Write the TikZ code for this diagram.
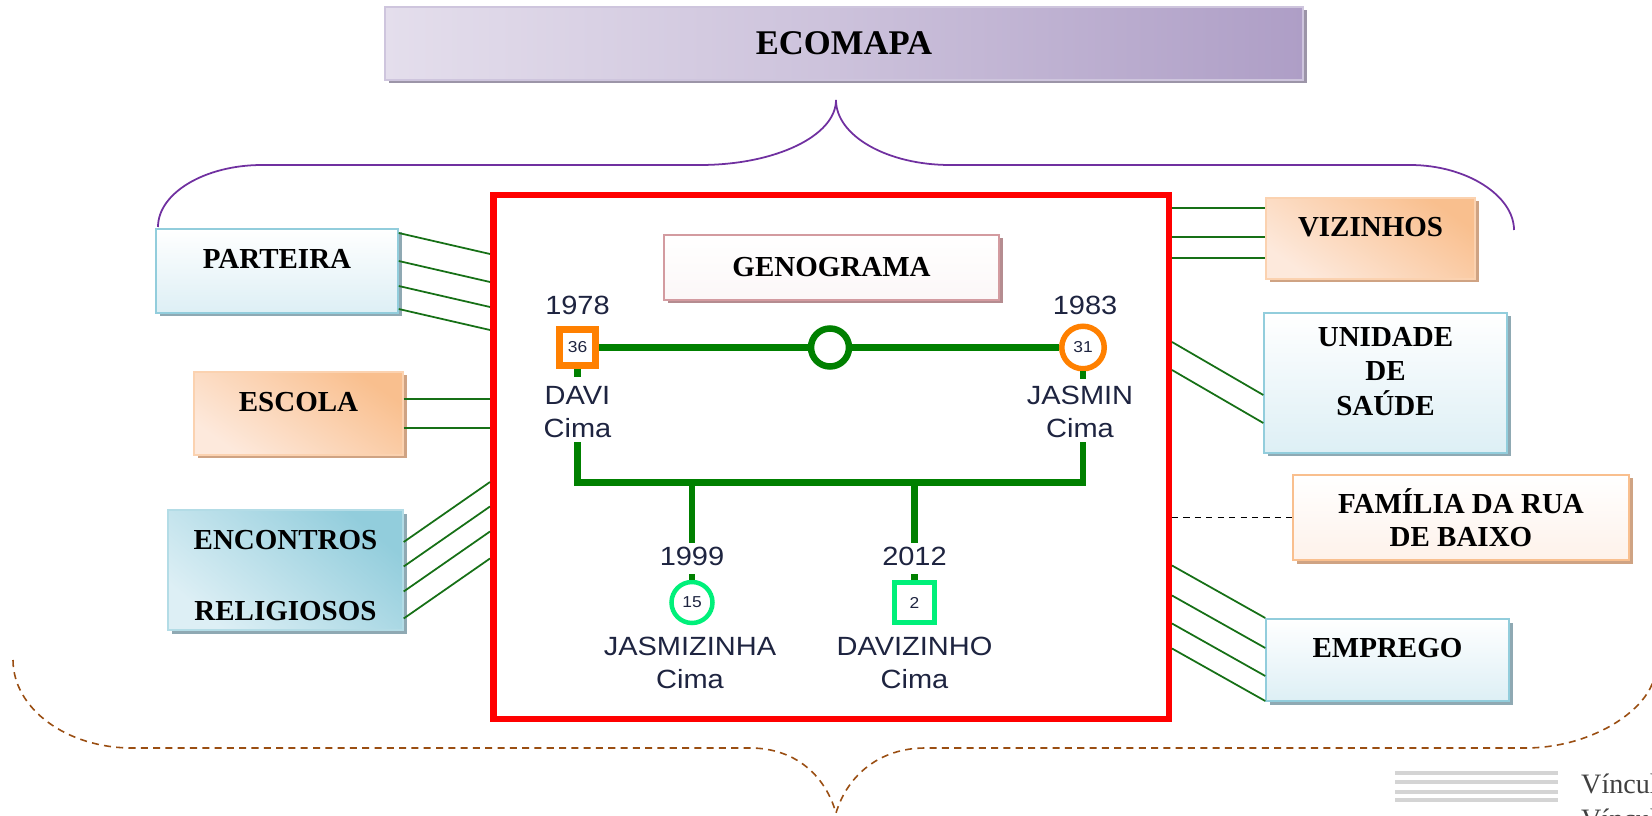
\documentclass[tikz,border=0pt]{standalone}
\usepackage{fontspec}
\setmainfont{Liberation Serif}
\newfontfamily\genofont{Liberation Sans}[FakeStretch=1.1]
\usetikzlibrary{shadows}
\definecolor{Lilac}{HTML}{E4DEEC}
\definecolor{Plum}{HTML}{AE9EC6}
\definecolor{PlumShade}{HTML}{9C95A8}
\definecolor{Brace}{HTML}{7030A0}
\definecolor{Rust}{HTML}{9A4E12}
\definecolor{Sky}{HTML}{92CDDC}
\definecolor{SkyPale}{HTML}{DDEFF5}
\definecolor{SkyShade}{HTML}{8FA9B3}
\definecolor{Peach}{HTML}{F9BF8E}
\definecolor{PeachPale}{HTML}{FDE9DC}
\definecolor{PeachShade}{HTML}{CFA383}
\definecolor{Rose}{HTML}{D39BA0}
\definecolor{RoseShade}{HTML}{B58C90}
\definecolor{Tie}{HTML}{167016}
\definecolor{Kin}{HTML}{008000}
\definecolor{Elder}{HTML}{FF8000}
\definecolor{Young}{HTML}{00F07A}
\definecolor{Ink}{HTML}{1E2440}
\definecolor{LegendGray}{HTML}{D4D4D4}
\definecolor{LegendInk}{HTML}{404040}

\begin{document}
\begin{tikzpicture}[x=1cm,y=1cm,
    tag/.style={draw, align=center, inner sep=0pt, line width=0.8pt,
      font=\fontsize{16.5}{19}\selectfont\bfseries},
    raised/.style={text height=0.4cm, text depth=0.49cm},
    shade box/.style={drop shadow={shadow xshift=0.07cm, shadow yshift=-0.07cm, fill=#1, opacity=1}},
    skybox/.style={tag, draw=Sky, top color=white, bottom color=SkyPale, shade box=SkyShade},
    peachbox/.style={tag, draw=Peach!70!white, top color=Peach, bottom color=PeachPale,
      shading angle=-35, shade box=PeachShade},
    tie/.style={Tie, line width=1pt},
    kin/.style={Kin, line width=0.13cm},
    geno/.style={text=Ink, inner sep=0.08cm, font=\genofont\fontsize{15}{18}\selectfont},
    age/.style={inner sep=0pt, text=Ink, font=\genofont\fontsize{9}{10}\selectfont},
    man/.style={age, rectangle, draw, fill=white, minimum size=0.72cm, line width=0.13cm},
    woman/.style={age, circle, draw, fill=white, minimum size=0.85cm, line width=0.11cm}]
  \useasboundingbox (0,0) rectangle (33.04,16.30);
  \fill[white] (0,0) rectangle (33.04,16.30);

  % title and braces
  \node[tag, draw=Plum!60!white, left color=Lilac, right color=Plum, middle color=Lilac!55!Plum,
    shade box=PlumShade, minimum width=18.36cm, minimum height=1.46cm,
    font=\fontsize{19.7}{23}\selectfont\bfseries] (ecomapa) at (16.88,15.43) {ECOMAPA};
  \draw[Brace, line width=1pt] (3.16,11.76) .. controls (3.16,12.44) and (4.10,13.0) .. (5.24,13.0)
    -- (14.0,13.0) .. controls (15.5,13.0) and (16.72,13.58) .. (16.72,14.30)
    .. controls (16.72,13.58) and (17.75,13.0) .. (19.0,13.0)
    -- (28.2,13.0) .. controls (29.34,13.0) and (30.28,12.38) .. (30.28,11.70);
  \draw[Rust, line width=0.9pt, dash pattern=on 4pt off 3pt] (0.26,3.10)
    .. controls (0.26,2.13) and (1.33,1.34) .. (2.64,1.34)
    -- (15.0,1.34) .. controls (15.9,1.34) and (16.5,0.8) .. (16.72,0.04)
    .. controls (16.95,0.8) and (17.6,1.34) .. (18.5,1.34)
    -- (30.5,1.34) .. controls (31.93,1.34) and (33.1,2.2) .. (33.1,2.9);

  % family frame
  \node[draw=red, fill=white, line width=0.13cm, minimum width=13.51cm, minimum height=10.47cm]
    (casa) at (16.62,7.16) {};
  \node[tag, draw=Rose, top color=white, bottom color=Rose!8!white, shade box=RoseShade,
    minimum width=6.70cm, minimum height=1.30cm] (genograma) at (16.63,10.95) {GENOGRAMA};

  % outer systems
  \node[skybox, raised, minimum width=4.84cm, minimum height=1.68cm] (parteira) at (5.54,10.88) {PARTEIRA};
  \node[peachbox, raised, minimum width=4.18cm, minimum height=1.66cm] (escola) at (5.97,8.03) {ESCOLA};
  \node[tag, draw=Sky!70!white, top color=Sky, bottom color=SkyPale, shading angle=-40,
    shade box=SkyShade, minimum width=4.70cm, minimum height=2.40cm]
    (encontros) at (5.71,4.90) {\rule{0pt}{0.6cm}ENCONTROS\\[21pt]RELIGIOSOS};
  \node[peachbox, raised, minimum width=4.18cm, minimum height=1.62cm] (vizinhos) at (27.41,11.53) {VIZINHOS};
  \node[skybox, minimum width=4.86cm, minimum height=2.80cm] (unidade) at (27.71,8.64) {UNIDADE\\DE\\[1pt]SAÚDE\\[-6pt]};
  \node[tag, draw=Peach, top color=white, bottom color=PeachPale!60!white, shade box=PeachShade,
    minimum width=6.72cm, minimum height=1.70cm] (familia) at (29.22,5.95) {FAMÍLIA DA RUA\\DE BAIXO};
  \node[skybox, raised, minimum width=4.86cm, minimum height=1.64cm] (emprego) at (27.75,3.10) {EMPREGO};

  % ties to the family
  \foreach \dy in {0.76,0.20,-0.30,-0.76}
    \draw[tie] ([yshift=\dy*1cm]parteira.east) -- ([yshift=(\dy-0.42)*1cm]parteira.east -| casa.west);
  \foreach \dy in {0.29,-0.29}
    \draw[tie] ([yshift=\dy*1cm]escola.east) -- ([yshift=\dy*1cm]escola.east -| casa.west);
  \foreach \dy in {0.56,0.07,-0.43,-0.97}
    \draw[tie] ([yshift=\dy*1cm]encontros.east) -- ([yshift=(\dy+1.2)*1cm]encontros.east -| casa.west);
  \foreach \dy in {0.61,0.03,-0.39}
    \draw[tie] ([yshift=\dy*1cm]vizinhos.west -| casa.east) -- ([yshift=\dy*1cm]vizinhos.west);
  \foreach \dy in {-0.24,-0.80}
    \draw[tie] ([yshift=(\dy+1.06)*1cm]unidade.west -| casa.east) -- ([yshift=\dy*1cm]unidade.west);
  \draw[line width=0.9pt, dash pattern=on 3.5pt off 3pt] (familia.west -| casa.east) -- (familia.west);
  \foreach \dy in {0.84,0.24,-0.32,-0.82}
    \draw[tie] ([yshift=(\dy+1.05)*1cm]emprego.west -| casa.east) -- ([yshift=\dy*1cm]emprego.west);

  % parents
  \node[man, draw=Elder] (davi) at (11.55,9.35) {36};
  \node[circle, draw=Kin, fill=white, line width=0.13cm, minimum size=0.76cm] (uniao) at (16.60,9.35) {};
  \node[woman, draw=Elder] (jasmin) at (21.66,9.35) {31};
  \draw[kin] (davi) -- (uniao) -- (jasmin);
  \node[geno] (davi-ano) at (11.55,10.19) {1978};
  \node[geno] (davi-nome) at (11.55,8.40) {DAVI};
  \node[geno] (davi-cima) at (11.55,7.74) {Cima};
  \node[geno] (jasmin-ano) at (21.70,10.19) {1983};
  \node[geno] (jasmin-nome) at (21.60,8.40) {JASMIN};
  \node[geno] (jasmin-cima) at (21.60,7.74) {Cima};
  \draw[kin] (davi.south) -- ++(0,-0.17);
  \draw[kin] (jasmin.south) -- ++(0,-0.15);
  \coordinate (prole) at (16.60,6.65);
  \draw[kin] (davi |- davi-cima.south) |- (prole) -| (jasmin |- jasmin-cima.south);

  % children
  \node[geno] (jasmizinha-ano) at (13.84,5.17) {1999};
  \node[woman, draw=Young, minimum size=0.82cm, line width=0.09cm] (jasmizinha) at (13.84,4.25) {15};
  \node[geno] (jasmizinha-nome) at (13.80,3.38) {JASMIZINHA};
  \node[geno] (jasmizinha-cima) at (13.80,2.71) {Cima};
  \node[geno] (davizinho-ano) at (18.29,5.17) {2012};
  \node[man, draw=Young, minimum size=0.80cm, line width=0.09cm] (davizinho) at (18.29,4.25) {2};
  \node[geno] (davizinho-nome) at (18.29,3.38) {DAVIZINHO};
  \node[geno] (davizinho-cima) at (18.29,2.71) {Cima};
  \draw[kin] (jasmizinha-ano |- prole) -- (jasmizinha-ano.north);
  \draw[kin] (davizinho-ano |- prole) -- (davizinho-ano.north);
  \draw[kin] (jasmizinha.north) -- ++(0,0.12);
  \draw[kin] (davizinho.north) -- ++(0,0.12);

  % legend, cut at the page edge
  \foreach \y in {0.84,0.66,0.46,0.30}
    \draw[LegendGray, line width=0.09cm] (27.90,\y) -- (31.16,\y);
  \node[anchor=west, text=LegendInk, font=\fontsize{16}{19}\selectfont] (vinculo) at (31.50,0.62) {Vínculo};
  \node[anchor=west, text=LegendInk, font=\fontsize{16}{19}\selectfont] (vinculo-b) at (31.50,-0.08) {Vínculo};
\end{tikzpicture}
\end{document}
